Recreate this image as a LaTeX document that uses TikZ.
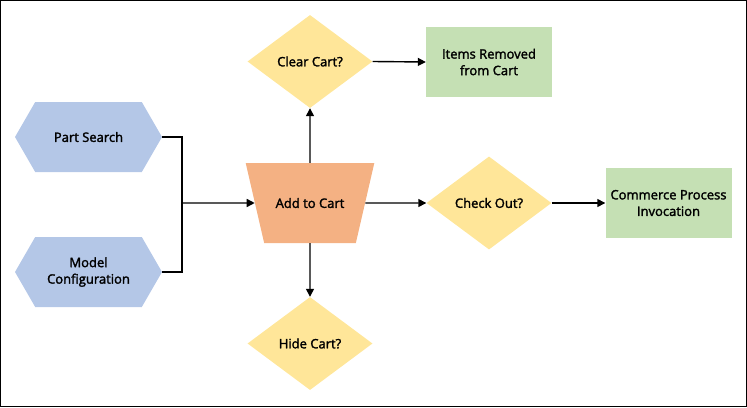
\documentclass[tikz,border=0pt]{standalone}
\usepackage{fontspec}
\setmainfont{Open Sans}[FakeBold=2]
\usepackage{tikz}
\usetikzlibrary{arrows.meta}
\usetikzlibrary{positioning}
\usetikzlibrary{shapes}

\definecolor{hexblue}{HTML}{B4C7E7}
\definecolor{trapeze}{HTML}{F4B183}
\definecolor{decide}{HTML}{FFE699}
\definecolor{result}{HTML}{C5E0B4}

\begin{document}
\begin{tikzpicture}[x=1pt,y=-1pt,
    font=\fontsize{13}{16.5}\selectfont,
    every node/.style={align=center,inner sep=0pt},
    source/.style={signal,signal to=west and east,signal pointer angle=120,
      fill=hexblue,minimum width=147pt,minimum height=70pt},
    action/.style={trapezium,shape border rotate=180,
      trapezium left angle=77,trapezium right angle=77,
      fill=trapeze,inner xsep=11.5pt,inner ysep=35pt},
    question/.style={diamond,fill=decide,minimum width=125pt,minimum height=93pt},
    outcome/.style={rectangle,fill=result,minimum width=126pt,minimum height=70pt},
    arr/.style={line width=1.4pt,-{Triangle[length=8pt,width=8pt]}},
    link/.style={line width=1.4pt}]
  \useasboundingbox (0,0) rectangle (747,407);
  \draw[line width=1pt] (0.5,0.5) rectangle (746.5,406.5);

  % inputs
  \node[source] (search) at (88.5,137) {Part Search};
  \node[source] (config) at (88.5,272) {Model\\Configuration};
  \coordinate (join) at (182,203);

  % cart
  \node[action] (add) at (310,203) {Add to Cart};
  \node[question] (clear) at (310,61.5) {Clear Cart?};
  \node[question] (hide) at (310,343.5) {Hide Cart?};
  \node[question] (checkout) at (489,203) {Check Out?};

  % results
  \node[outcome] (removed) at (489,62) {Items Removed\\from Cart};
  \node[outcome] (commerce) at (668.5,203) {Commerce Process\\Invocation};

  \draw[link] (search.east) -| (join);
  \draw[link] (config.east) -| (join);
  \draw[arr] (join) -- (add.west);
  \draw[arr] (add.north) -- (clear.south);
  \draw[arr] (add.south) -- (hide.north);
  \draw[arr] (add.east) -- (checkout.west);
  \draw[arr] (clear.east) -- (removed.west);
  \draw[arr] (checkout.east) -- (commerce.west);
\end{tikzpicture}
\end{document}
